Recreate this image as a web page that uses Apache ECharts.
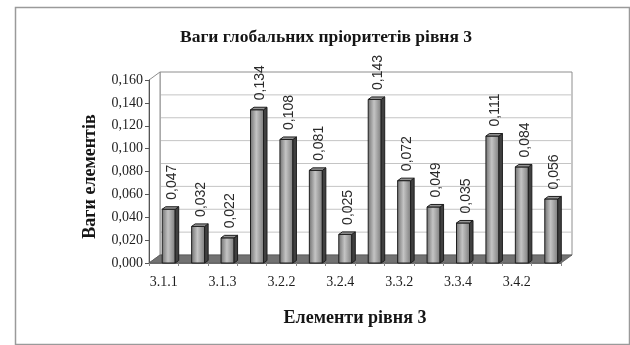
<!DOCTYPE html>
<html>
<head>
<meta charset="utf-8">
<script src="https://cdn.jsdelivr.net/npm/echarts@6/dist/echarts.min.js"></script>
<style>
  html, body { margin: 0; padding: 0; background: #ffffff; }
  #chart { width: 630px; height: 345px; }
</style>
</head>
<body>
<div id="chart"></div>
<script>
// Level-3 elements and their global priority weights
const categories = ['3.1.1', '3.1.2', '3.1.3', '3.2.1', '3.2.2', '3.2.3', '3.2.4',
                    '3.3.1', '3.3.2', '3.3.3', '3.3.4', '3.4.1', '3.4.2', '3.4.3'];
const weights = [0.047, 0.032, 0.022, 0.134, 0.108, 0.081, 0.025,
                 0.143, 0.072, 0.049, 0.035, 0.111, 0.084, 0.056];

// Value axis range
const yMin = 0;
const yMax = 0.16;
const yStep = 0.02;

const titleText = 'Ваги глобальних пріоритетів рівня 3';
const yName = 'Ваги елементів';
const xName = 'Елементи рівня 3';

// Pseudo-3D look: depth offset of the back wall, bar size and bar depth
const DEPTH_X = 11, DEPTH_Y = 8;
const BAR_W = 13, BAR_DX = 3.5, BAR_DY = 2.5, BAR_SHIFT = 5;

const SERIF = '"Liberation Serif", "DejaVu Serif", serif';
const SANS = '"Liberation Sans", Arial, sans-serif';

const fmt = v => v.toFixed(3).replace('.', ',');

// Walls and floor of the 3D box, placed from the axes' own scales
function renderBox(params, api) {
  const n = categories.length;
  const cw = api.size([1, 0])[0];
  const left = api.coord([0, yMin])[0] - cw / 2;
  const right = api.coord([n - 1, yMin])[0] + cw / 2;
  const bottom = api.coord([0, yMin])[1];
  const top = api.coord([0, yMax])[1];
  const children = [];
  // back wall
  children.push({
    type: 'rect',
    shape: { x: left + DEPTH_X, y: top - DEPTH_Y, width: right - left, height: bottom - top },
    style: { fill: '#ffffff', stroke: '#8e8e8e', lineWidth: 1 }
  });
  // gridlines on the back wall
  for (let v = yMin + yStep; v < yMax - 1e-9; v += yStep) {
    const y = api.coord([0, v])[1] - DEPTH_Y;
    children.push({
      type: 'line',
      shape: { x1: left + DEPTH_X, y1: y, x2: right + DEPTH_X, y2: y },
      style: { stroke: '#c4c4c4', lineWidth: 1 }
    });
  }
  // left side wall
  children.push({
    type: 'polygon',
    shape: { points: [[left, bottom], [left, top], [left + DEPTH_X, top - DEPTH_Y], [left + DEPTH_X, bottom - DEPTH_Y]] },
    style: { fill: '#ffffff', stroke: '#8e8e8e', lineWidth: 1 }
  });
  // floor
  children.push({
    type: 'polygon',
    shape: { points: [[left, bottom], [right, bottom], [right + DEPTH_X, bottom - DEPTH_Y], [left + DEPTH_X, bottom - DEPTH_Y]] },
    style: { fill: '#727272', stroke: '#585858', lineWidth: 0.8 }
  });
  return { type: 'group', children: children };
}

// One shaded column with a rotated value label
function renderColumn(params, api) {
  const idx = api.value(0);
  const val = api.value(1);
  const topPt = api.coord([idx, val]);
  const basePt = api.coord([idx, yMin]);
  const cx = topPt[0] + BAR_SHIFT;
  const x0 = cx - BAR_W / 2, x1 = cx + BAR_W / 2;
  const yt = topPt[1], yb = basePt[1];
  return {
    type: 'group',
    children: [
      {
        type: 'rect',
        shape: { x: x0, y: yt, width: BAR_W, height: yb - yt },
        style: {
          fill: new echarts.graphic.LinearGradient(0, 0, 1, 0, [
            { offset: 0, color: '#6e6e6e' },
            { offset: 0.45, color: '#c4c4c4' },
            { offset: 1, color: '#7a7a7a' }
          ]),
          stroke: '#1e1e1e', lineWidth: 1
        }
      },
      {
        type: 'polygon',
        shape: { points: [[x1, yb], [x1 + BAR_DX, yb - BAR_DY], [x1 + BAR_DX, yt - BAR_DY], [x1, yt]] },
        style: { fill: '#404040', stroke: '#1e1e1e', lineWidth: 1 }
      },
      {
        type: 'polygon',
        shape: { points: [[x0, yt], [x0 + BAR_DX, yt - BAR_DY], [x1 + BAR_DX, yt - BAR_DY], [x1, yt]] },
        style: { fill: '#949494', stroke: '#1e1e1e', lineWidth: 1 }
      },
      {
        type: 'text',
        x: cx + 3,
        y: yt - BAR_DY - 7,
        rotation: Math.PI / 2,
        style: {
          text: fmt(val),
          align: 'left',
          verticalAlign: 'middle',
          fill: '#2a2a2a',
          font: '14px ' + SANS
        }
      }
    ]
  };
}

const chart = echarts.init(document.getElementById('chart'), null, { renderer: 'canvas' });

chart.setOption({
  animation: false,
  backgroundColor: '#ffffff',
  title: {
    text: titleText,
    left: 321,
    top: 23,
    textAlign: 'center',
    textStyle: { fontFamily: SERIF, fontWeight: 'bold', fontSize: 17.5, color: '#151515' }
  },
  graphic: [{
    type: 'rect',
    left: 13, top: 5,
    shape: { width: 614, height: 337 },
    style: { fill: 'none', stroke: '#9a9a9a', lineWidth: 1.5 },
    silent: true
  }],
  grid: { left: 149, right: 69, top: 80, bottom: 82 },
  xAxis: {
    type: 'category',
    data: categories,
    name: xName,
    nameLocation: 'middle',
    nameGap: 46,
    nameTextStyle: { fontFamily: SERIF, fontWeight: 'bold', fontSize: 18, color: '#151515' },
    axisLine: { show: true, lineStyle: { color: '#6a6a6a', width: 1 } },
    axisTick: { show: true, interval: 0, length: 3, lineStyle: { color: '#888888' } },
    axisLabel: {
      interval: 1,
      margin: 12,
      fontFamily: SERIF,
      fontSize: 14,
      color: '#1e1e1e'
    },
    splitLine: { show: false },
    z: 3
  },
  yAxis: {
    type: 'value',
    min: yMin,
    max: yMax,
    interval: yStep,
    name: yName,
    nameLocation: 'middle',
    nameGap: 50,
    nameRotate: 90,
    nameTextStyle: {
      fontFamily: SERIF, fontWeight: 'bold', fontSize: 18, color: '#151515',
      padding: [0, 10, 0, 0]
    },
    axisLine: { show: true, lineStyle: { color: '#555555', width: 1 } },
    axisTick: { show: true, length: 4, lineStyle: { color: '#555555' } },
    axisLabel: {
      margin: 6,
      fontFamily: SERIF,
      fontSize: 14,
      color: '#1e1e1e',
      formatter: v => fmt(v)
    },
    splitLine: { show: false },
    z: 3
  },
  series: [
    {
      type: 'custom',
      name: 'box',
      silent: true,
      renderItem: renderBox,
      data: [[0, 0]],
      z: 1
    },
    {
      type: 'custom',
      name: 'weights',
      silent: true,
      clip: false,
      renderItem: renderColumn,
      data: weights.map((w, i) => [i, w]),
      z: 5
    }
  ]
});
</script>
</body>
</html>
